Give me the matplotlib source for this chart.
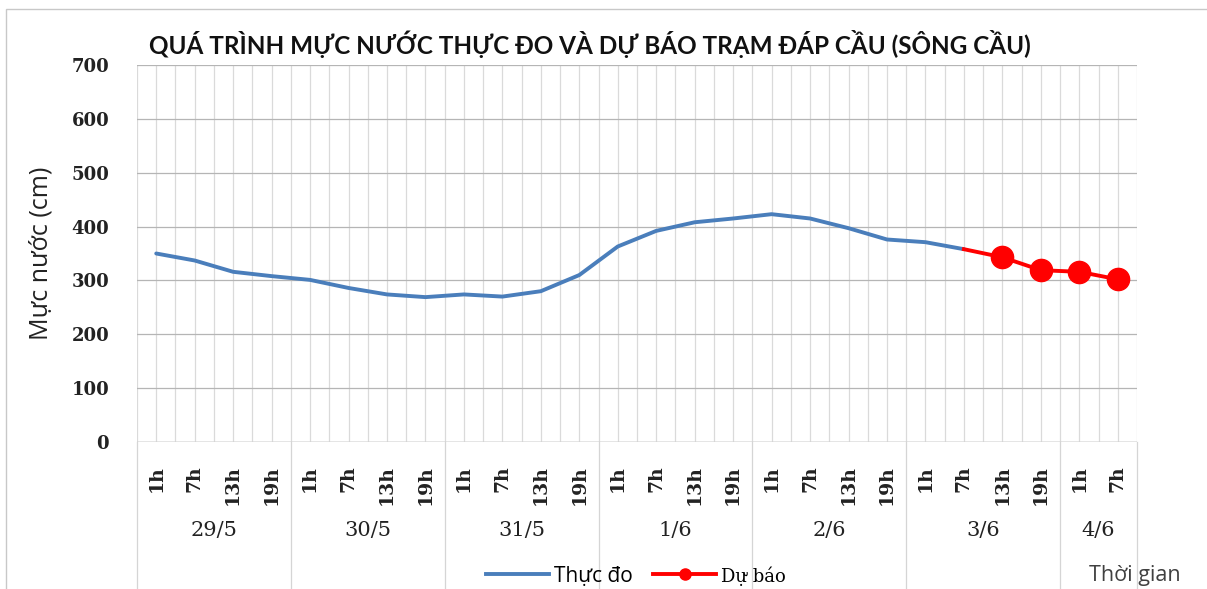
import matplotlib.pyplot as plt
import matplotlib.patches as mpatches
from matplotlib.lines import Line2D
import numpy as np

hours = ["1h", "7h", "13h", "19h"]
days = ["29/5", "30/5", "31/5", "1/6", "2/6", "3/6", "4/6"]
day_sizes = [4, 4, 4, 4, 4, 4, 2]
tick_labels = [h for n in day_sizes for h in hours[:n]]

# water level (cm)
measured = [350, 337, 316, 308, 301, 286, 274, 269, 274, 270, 280, 310,
            363, 392, 408, 415, 423, 415, 397, 376, 371, 358]
forecast = [358, 343, 319, 316, 302]
forecast_start = 21

x_meas = np.arange(len(measured))
x_fc = np.arange(forecast_start, forecast_start + len(forecast))

BLUE = "#4A7EBB"
RED = "#FF0000"
SERIF = "DejaVu Serif"

fig = plt.figure(figsize=(12.07, 5.89), dpi=100)
ax = fig.add_axes([137 / 1207, 1 - 442 / 589, 1000 / 1207, 377 / 589])

ax.plot(x_meas, measured, color=BLUE, lw=2.8, solid_joinstyle="round",
        solid_capstyle="round", zorder=3)
ax.plot(x_fc, forecast, color=RED, lw=2.8, marker="o", markersize=16,
        markevery=list(range(1, len(forecast))), zorder=4)

n = len(tick_labels)
ax.set_xlim(-0.5, n - 0.5)
ax.set_ylim(0, 700)
ax.set_yticks(np.arange(0, 701, 100))
ax.set_xticks(np.arange(n))
ax.set_xticklabels(tick_labels, rotation=90, va="top",
                   family=SERIF, fontsize=13.5, fontweight="bold",
                   color="#222222")
ax.set_xticks(np.arange(-0.5, n, 1.0), minor=True)
ax.tick_params(axis="x", which="both", length=0, pad=17)
ax.tick_params(axis="y", length=0, pad=20)
for t in ax.get_yticklabels():
    t.set_family(SERIF)
    t.set_fontweight("bold")
    t.set_fontsize(13)
    t.set_color("#222222")

ax.grid(axis="y", color="#B5B5B5", lw=0.9, zorder=0)
ax.grid(axis="x", which="both", color="#DADADA", lw=0.9, zorder=0)
for s in ax.spines.values():
    s.set_visible(False)
ax.axhline(0, color="#A6A6A6", lw=1.0, zorder=1)

ax.set_ylabel("Mực nước (cm)", family="Open Sans", fontsize=18, color="#222222")
ax.yaxis.set_label_coords(-83 / 1000, 0.5)

# day separators and group labels
trans = ax.get_xaxis_transform()
edges = np.concatenate([[0], np.cumsum(day_sizes)]) - 0.5
for e in edges:
    ax.plot([e, e], [0, -0.42], transform=trans, color="#D5D5D5", lw=0.9,
            clip_on=False, zorder=0)
for d, a, b in zip(days, edges[:-1], edges[1:]):
    ax.text((a + b) / 2, -0.235, d, transform=trans, ha="center", va="center",
            family=SERIF, fontsize=15, color="#222222")

fig.text(590 / 1207, 1 - 44 / 589,
         "QUÁ TRÌNH MỰC NƯỚC THỰC ĐO VÀ DỰ BÁO TRẠM ĐÁP CẦU (SÔNG CẦU)",
         ha="center", va="center", family="Lato", fontweight="bold",
         fontsize=17.5, color="#111111")

handles = [Line2D([], [], color=BLUE, lw=2.8),
           Line2D([], [], color=RED, lw=2.8, marker="o", markersize=8)]
leg = fig.legend(handles, ["Thực đo", "Dự báo"], loc="center",
                 bbox_to_anchor=(636 / 1207, 1 - 576 / 589), ncol=2,
                 frameon=False, handlelength=3.0, handletextpad=0.25,
                 columnspacing=1.0, prop={"family": "Open Sans", "size": 15})
leg.get_texts()[1].set_family(SERIF)
leg.get_texts()[1].set_fontsize(13)

fig.text(1089 / 1207, 1 - 576 / 589, "Thời gian", ha="left", va="center",
         family="Open Sans", fontsize=15.5, color="#404040")

border = mpatches.Rectangle((6 / 1207, -0.05), 1.1, 1 - 9 / 589 + 0.05,
                            transform=fig.transFigure, fill=False,
                            edgecolor="#C8C8C8", lw=1.0)
fig.patches.append(border)

fig.savefig("out.png", dpi=100)
